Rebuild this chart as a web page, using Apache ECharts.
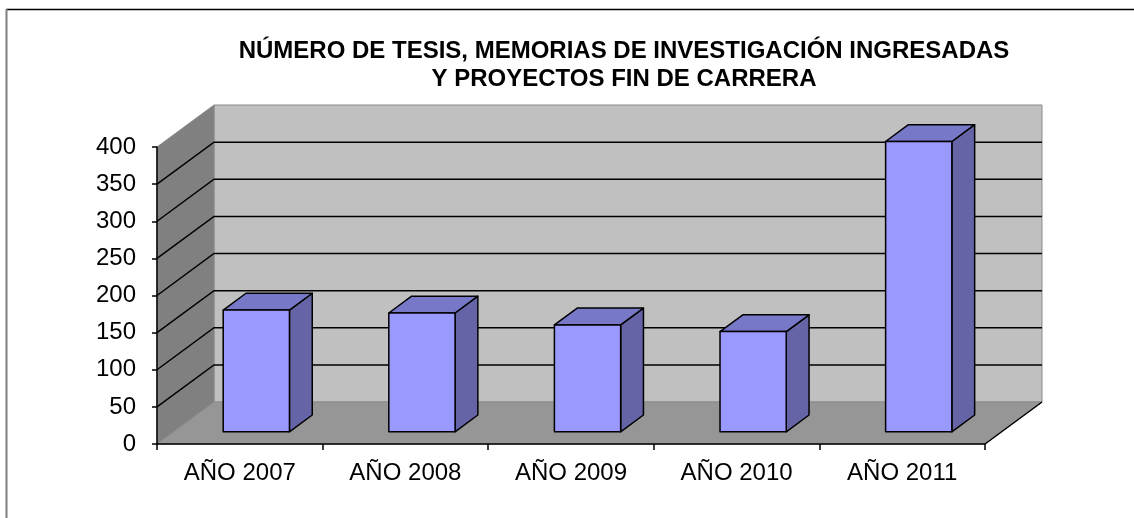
<!DOCTYPE html>
<html>
<head>
<meta charset="utf-8">
<script src="https://cdn.jsdelivr.net/npm/echarts@6/dist/echarts.min.js"></script>
<style>
html,body{margin:0;padding:0;background:#fff;}
#chart{width:1134px;height:518px;}
</style>
</head>
<body>
<div id="chart"></div>
<script>
// ---- data ----
const titleLines = ['NÚMERO DE TESIS, MEMORIAS DE INVESTIGACIÓN INGRESADAS', 'Y PROYECTOS FIN DE CARRERA'];
const categories = ['AÑO 2007', 'AÑO 2008', 'AÑO 2009', 'AÑO 2010', 'AÑO 2011'];
const values = [164, 160, 144, 135, 391];
const yMin = 0, yMax = 400, yStep = 50;
const gridValues = [50, 100, 150, 200, 250, 300, 350];

// ---- style constants ----
const FONT = "'Liberation Sans', Arial, sans-serif";
const DX = 57, DY = -42;          // depth vector of the 3D box
const BAR_F0 = 0.29, BAR_F1 = 0.69; // bar front/back depth fractions
const BAR_W = 0.40;                 // bar width fraction of category band

const chart = echarts.init(document.getElementById('chart'), null, {renderer: 'canvas'});

function wallsRender(params, api) {
  const cs = params.coordSys;
  const x0 = cs.x, x1 = cs.x + cs.width;
  const yBot = api.coord([0, yMin])[1];
  const yTop = api.coord([0, yMax])[1];
  const wallStroke = {stroke: '#8a8a8a', lineWidth: 1};
  return {
    type: 'group',
    children: [
      {type: 'rect', shape: {x: x0 + DX, y: yTop + DY, width: x1 - x0, height: yBot - yTop},
       style: Object.assign({fill: '#c0c0c0'}, wallStroke)},
      {type: 'polygon', shape: {points: [[x0, yBot], [x0, yTop], [x0 + DX, yTop + DY], [x0 + DX, yBot + DY]]},
       style: Object.assign({fill: '#808080'}, wallStroke)},
      {type: 'polygon', shape: {points: [[x0, yBot], [x1, yBot], [x1 + DX, yBot + DY], [x0 + DX, yBot + DY]]},
       style: Object.assign({fill: '#969696'}, wallStroke)},
      {type: 'line', shape: {x1: x1, y1: yBot, x2: x1 + DX, y2: yBot + DY},
       style: {stroke: '#000', lineWidth: 1.5}}
    ]
  };
}

function gridRender(params, api) {
  const cs = params.coordSys;
  const x0 = cs.x, x1 = cs.x + cs.width;
  const y = api.coord([0, api.value(1)])[1];
  return {
    type: 'polyline',
    shape: {points: [[x0, y], [x0 + DX, y + DY], [x1 + DX, y + DY]]},
    style: {stroke: '#000', lineWidth: 1.5, fill: null}
  };
}

function barRender(params, api) {
  const idx = api.value(0);
  const v = api.value(1);
  const base = api.coord([idx, 0]);
  const top = api.coord([idx, v]);
  const band = api.size([1, 0])[0];
  const w = band * BAR_W;
  const xl = base[0] - w / 2 + BAR_F0 * DX;
  const xr = xl + w;
  const yb = base[1] + BAR_F0 * DY;
  const yt = top[1] + BAR_F0 * DY;
  const ddx = (BAR_F1 - BAR_F0) * DX, ddy = (BAR_F1 - BAR_F0) * DY;
  const st = {stroke: '#000', lineWidth: 1.5, lineJoin: 'round'};
  return {
    type: 'group',
    children: [
      {type: 'polygon', shape: {points: [[xr, yt], [xr + ddx, yt + ddy], [xr + ddx, yb + ddy], [xr, yb]]},
       style: Object.assign({fill: '#6464a6'}, st)},
      {type: 'polygon', shape: {points: [[xl, yt], [xl + ddx, yt + ddy], [xr + ddx, yt + ddy], [xr, yt]]},
       style: Object.assign({fill: '#7878c8'}, st)},
      {type: 'rect', shape: {x: xl, y: yt, width: w, height: yb - yt},
       style: Object.assign({fill: '#9999ff'}, st)}
    ]
  };
}

const option = {
  backgroundColor: '#ffffff',
  animation: false,
  title: {
    text: titleLines.join('\n'),
    left: 619, top: 32, textAlign: 'center',
    textStyle: {fontFamily: FONT, fontSize: 24, fontWeight: 'bold', color: '#000', lineHeight: 28}
  },
  graphic: [
    {type: 'line', shape: {x1: 6, y1: 9.5, x2: 1134, y2: 9.5}, style: {stroke: '#000', lineWidth: 1.5}, silent: true},
    {type: 'line', shape: {x1: 6.5, y1: 9, x2: 6.5, y2: 518}, style: {stroke: '#7f7f7f', lineWidth: 2}, silent: true}
  ],
  grid: {left: 157, right: 149, top: 147, bottom: 74, containLabel: false},
  xAxis: {
    type: 'category', data: categories, boundaryGap: true, z: 10,
    axisLine: {show: true, lineStyle: {color: '#000', width: 1.5}},
    axisTick: {show: true, interval: 0, length: 6, lineStyle: {color: '#000', width: 1.5}},
    axisLabel: {interval: 0, margin: 17, fontFamily: FONT, fontSize: 24, color: '#000'},
    splitLine: {show: false}
  },
  yAxis: {
    type: 'value', min: yMin, max: yMax, interval: yStep, z: 10,
    axisLine: {show: true, lineStyle: {color: '#000', width: 1.5}},
    axisTick: {show: true, length: 5, lineStyle: {color: '#000', width: 1.5}},
    axisLabel: {margin: 21, fontFamily: FONT, fontSize: 24, color: '#000'},
    splitLine: {show: false}
  },
  series: [
    {type: 'custom', name: 'walls', renderItem: wallsRender, data: [[0, 0]], clip: false, z: 1, silent: true},
    {type: 'custom', name: 'grid', renderItem: gridRender, data: gridValues.map(v => [0, v]), clip: false, z: 2, silent: true},
    {type: 'custom', name: 'bars', renderItem: barRender, data: values.map((v, i) => [i, v]), clip: false, z: 3}
  ]
};
chart.setOption(option);
</script>
</body>
</html>
